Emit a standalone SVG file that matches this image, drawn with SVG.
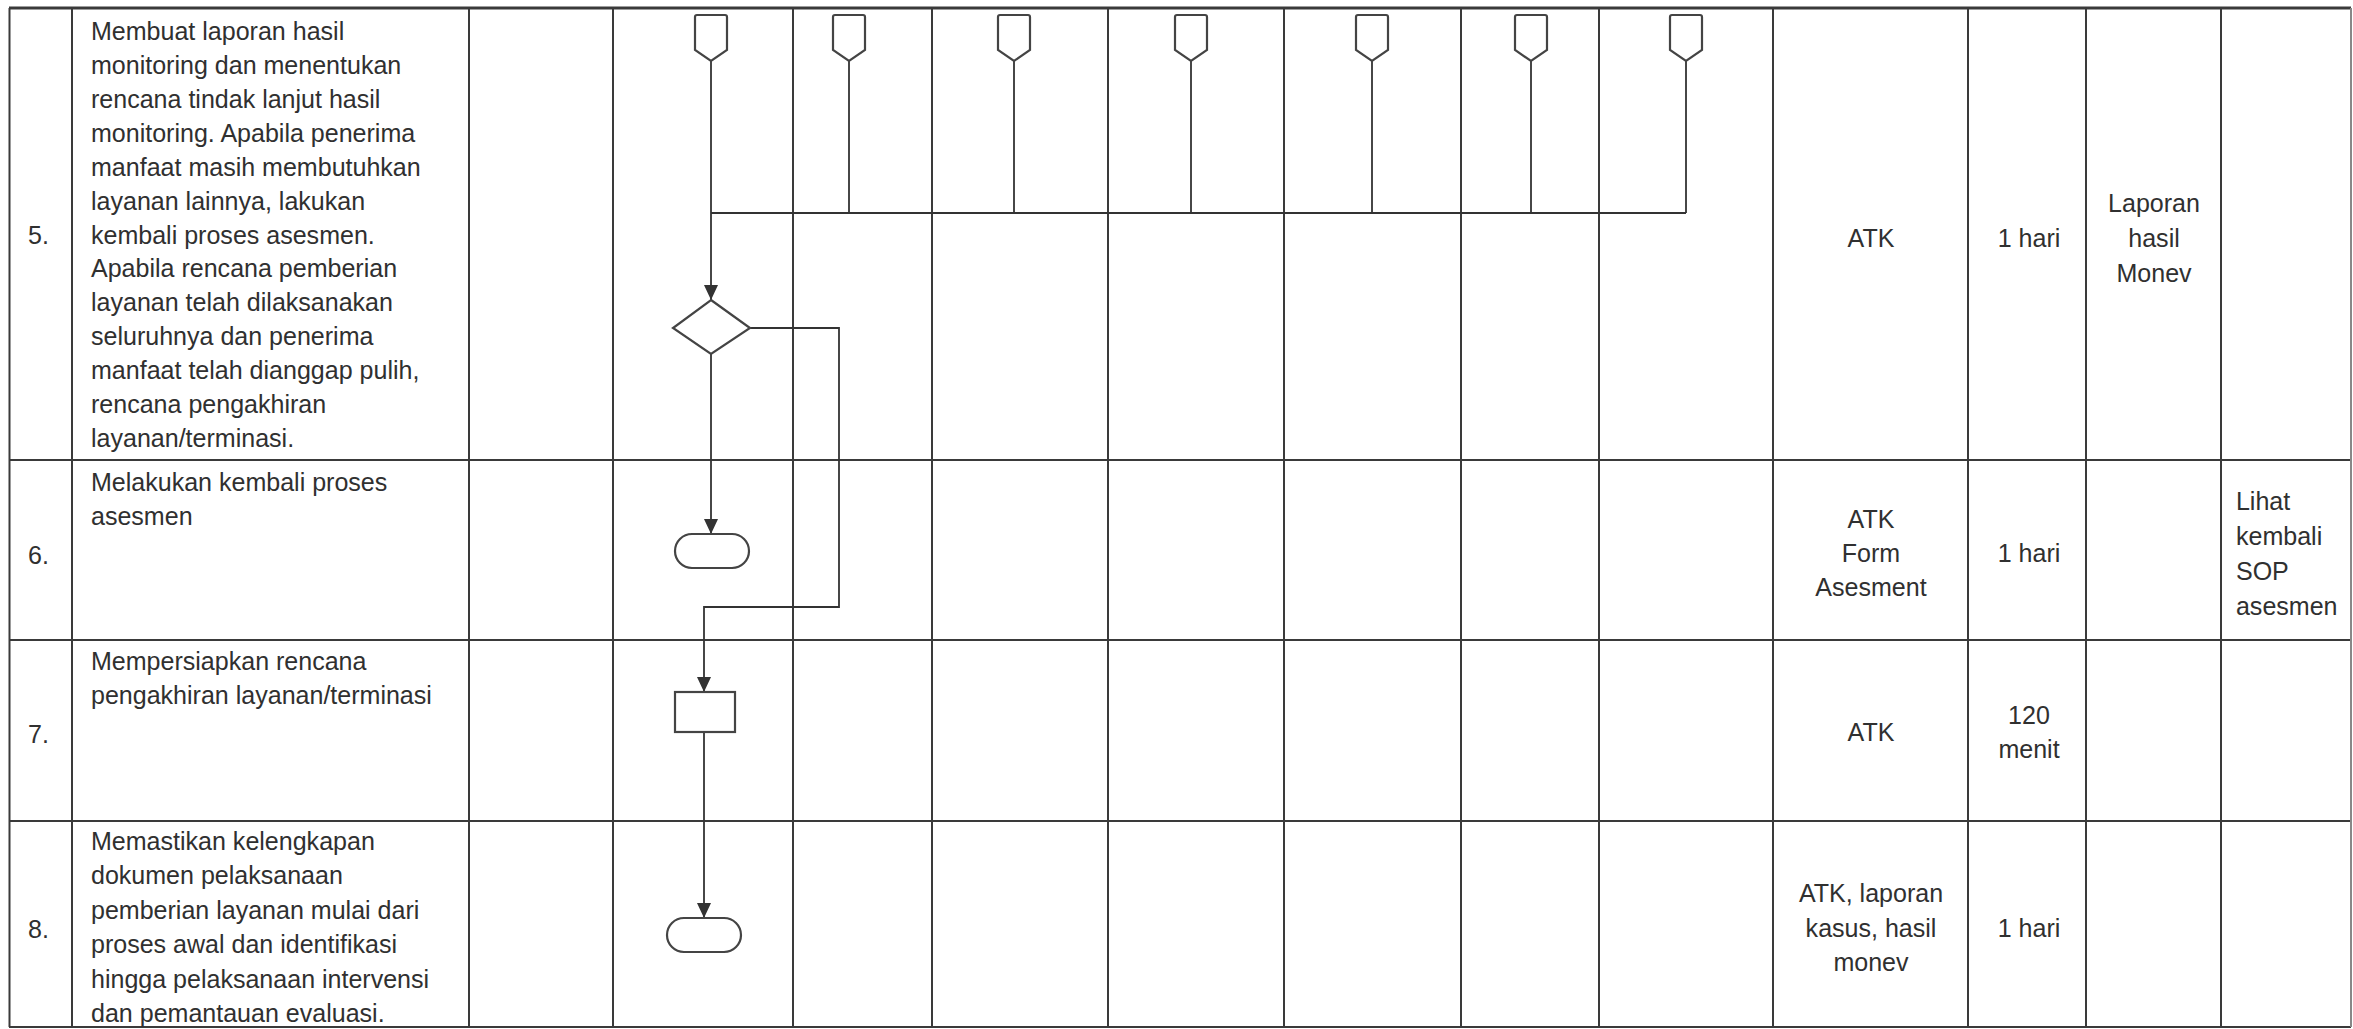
<svg xmlns="http://www.w3.org/2000/svg" width="2353" height="1029" viewBox="0 0 2353 1029">
<style>
.grid{stroke:#3a3a3a;stroke-width:2;fill:none}
.shape{stroke:#444;stroke-width:2.2;fill:#fff}
.conn{stroke:#333;stroke-width:1.8;fill:none}
text{font-family:"Liberation Sans",Arial,sans-serif;font-size:26.5px;fill:#303030}
.c{text-anchor:middle}
</style>
<defs>
<marker id="arr" viewBox="0 0 15 14" refX="15" refY="7" markerWidth="15" markerHeight="14" markerUnits="userSpaceOnUse" orient="auto">
<path d="M0 0 L15 7 L0 14 Z" fill="#333"/>
</marker>
<path id="offpage" d="M-16 17 Q-16 15 -14 15 H14 Q16 15 16 17 V50 L0 61 L-16 50 Z"/>
</defs>
<rect width="2353" height="1029" fill="#fff"/>
<g id="table" class="grid">
<line x1="9" y1="8" x2="2351" y2="8" stroke-width="3"/>
<line x1="9" y1="460" x2="2351" y2="460"/>
<line x1="9" y1="640" x2="2351" y2="640"/>
<line x1="9" y1="821" x2="2351" y2="821"/>
<line x1="9" y1="1027" x2="2351" y2="1027"/>
<line x1="9.5" y1="8" x2="9.5" y2="1027"/>
<line x1="72" y1="8" x2="72" y2="1027"/>
<line x1="469" y1="8" x2="469" y2="1027"/>
<line x1="613" y1="8" x2="613" y2="1027"/>
<line x1="793" y1="8" x2="793" y2="1027"/>
<line x1="932" y1="8" x2="932" y2="1027"/>
<line x1="1108" y1="8" x2="1108" y2="1027"/>
<line x1="1284" y1="8" x2="1284" y2="1027"/>
<line x1="1461" y1="8" x2="1461" y2="1027"/>
<line x1="1599" y1="8" x2="1599" y2="1027"/>
<line x1="1773" y1="8" x2="1773" y2="1027"/>
<line x1="1968" y1="8" x2="1968" y2="1027"/>
<line x1="2086" y1="8" x2="2086" y2="1027"/>
<line x1="2221" y1="8" x2="2221" y2="1027"/>
<line x1="2351" y1="8" x2="2351" y2="1027" stroke="#888"/>
</g>
<g id="texts" transform="scale(0.945 1)">
<text x="29.6" y="244">5.</text>
<text x="96.3"><tspan x="96.3" y="40">Membuat laporan hasil</tspan><tspan x="96.3" y="74">monitoring dan menentukan</tspan><tspan x="96.3" y="108">rencana tindak lanjut hasil</tspan><tspan x="96.3" y="142">monitoring. Apabila penerima</tspan><tspan x="96.3" y="176">manfaat masih membutuhkan</tspan><tspan x="96.3" y="210">layanan lainnya, lakukan</tspan><tspan x="96.3" y="244">kembali proses asesmen.</tspan><tspan x="96.3" y="277">Apabila rencana pemberian</tspan><tspan x="96.3" y="311">layanan telah dilaksanakan</tspan><tspan x="96.3" y="345">seluruhnya dan penerima</tspan><tspan x="96.3" y="379">manfaat telah dianggap pulih,</tspan><tspan x="96.3" y="413">rencana pengakhiran</tspan><tspan x="96.3" y="447">layanan/terminasi.</tspan></text>
<text class="c" x="1979.9" y="247">ATK</text>
<text class="c" x="2147.1" y="247">1 hari</text>
<text class="c" x="2279.4"><tspan x="2279.4" y="212">Laporan</tspan><tspan x="2279.4" y="247">hasil</tspan><tspan x="2279.4" y="282">Monev</tspan></text>

<text x="29.6" y="564">6.</text>
<text x="96.3"><tspan x="96.3" y="491">Melakukan kembali proses</tspan><tspan x="96.3" y="525">asesmen</tspan></text>
<text class="c" x="1979.9"><tspan x="1979.9" y="528">ATK</tspan><tspan x="1979.9" y="562">Form</tspan><tspan x="1979.9" y="596">Asesment</tspan></text>
<text class="c" x="2147.1" y="562">1 hari</text>
<text x="2366.1"><tspan x="2366.1" y="510">Lihat</tspan><tspan x="2366.1" y="545">kembali</tspan><tspan x="2366.1" y="580">SOP</tspan><tspan x="2366.1" y="615">asesmen</tspan></text>

<text x="29.6" y="743">7.</text>
<text x="96.3"><tspan x="96.3" y="670">Mempersiapkan rencana</tspan><tspan x="96.3" y="704">pengakhiran layanan/terminasi</tspan></text>
<text class="c" x="1979.9" y="741">ATK</text>
<text class="c" x="2147.1"><tspan x="2147.1" y="724">120</tspan><tspan x="2147.1" y="758">menit</tspan></text>

<text x="29.6" y="938">8.</text>
<text x="96.3"><tspan x="96.3" y="850">Memastikan kelengkapan</tspan><tspan x="96.3" y="884">dokumen pelaksanaan</tspan><tspan x="96.3" y="919">pemberian layanan mulai dari</tspan><tspan x="96.3" y="953">proses awal dan identifikasi</tspan><tspan x="96.3" y="988">hingga pelaksanaan intervensi</tspan><tspan x="96.3" y="1022">dan pemantauan evaluasi.</tspan></text>
<text class="c" x="1979.9"><tspan x="1979.9" y="902">ATK, laporan</tspan><tspan x="1979.9" y="937">kasus, hasil</tspan><tspan x="1979.9" y="971">monev</tspan></text>
<text class="c" x="2147.1" y="937">1 hari</text>
</g>
<g id="connectors" class="conn">
<path d="M711 61 V300" marker-end="url(#arr)"/>
<path d="M849 61 V213"/>
<path d="M1014 61 V213"/>
<path d="M1191 61 V213"/>
<path d="M1372 61 V213"/>
<path d="M1531 61 V213"/>
<path d="M1686 61 V213"/>
<path d="M711 213 H1686"/>
<path d="M711 354 V534" marker-end="url(#arr)"/>
<path d="M750 328 H839 V607 H704 V692" marker-end="url(#arr)"/>
<path d="M704 732 V918" marker-end="url(#arr)"/>
</g>
<g id="off1" class="shape"><use href="#offpage" x="711"/></g>
<g id="off2" class="shape"><use href="#offpage" x="849"/></g>
<g id="off3" class="shape"><use href="#offpage" x="1014"/></g>
<g id="off4" class="shape"><use href="#offpage" x="1191"/></g>
<g id="off5" class="shape"><use href="#offpage" x="1372"/></g>
<g id="off6" class="shape"><use href="#offpage" x="1531"/></g>
<g id="off7" class="shape"><use href="#offpage" x="1686"/></g>
<g id="decision" class="shape"><polygon points="711,300 750,328 711,354 673,328"/></g>
<g id="terminator1" class="shape"><rect x="675" y="534" width="74" height="34" rx="17"/></g>
<g id="process" class="shape"><rect x="675" y="692" width="60" height="40"/></g>
<g id="terminator2" class="shape"><rect x="667" y="918" width="74" height="34" rx="17"/></g>
</svg>
